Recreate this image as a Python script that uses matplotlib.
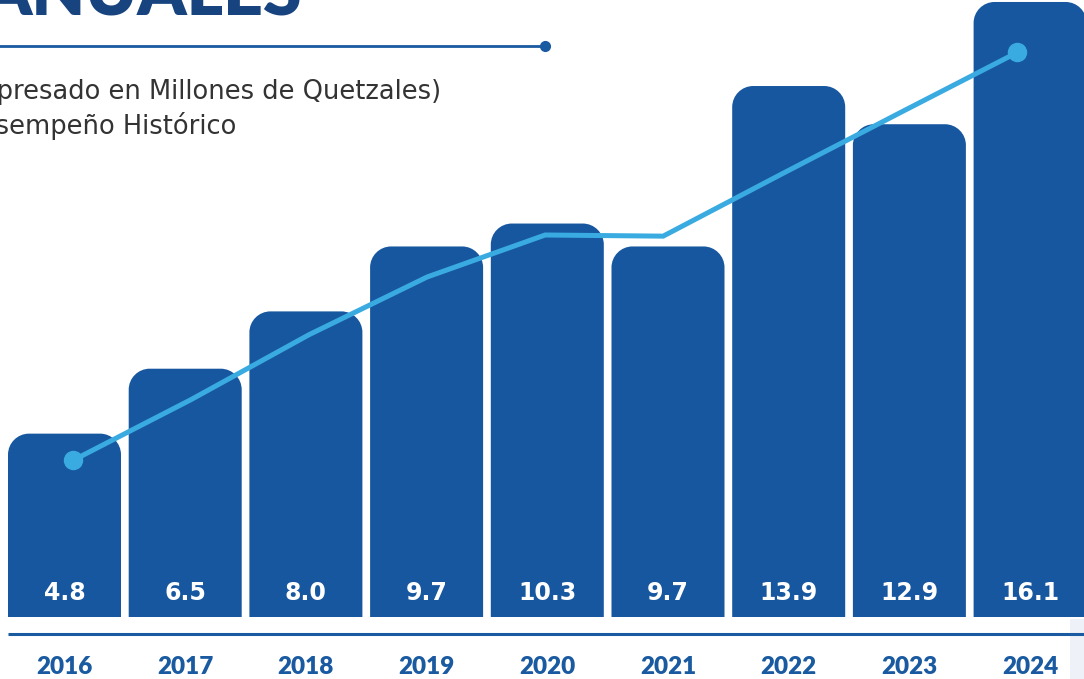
import matplotlib
matplotlib.use("Agg")
import matplotlib.pyplot as plt
from matplotlib.patches import PathPatch, Rectangle
from matplotlib.path import Path
import numpy as np

# ---------------- data ----------------
years = ["2016", "2017", "2018", "2019", "2020", "2021", "2022", "2023", "2024"]
values = [4.8, 6.5, 8.0, 9.7, 10.3, 9.7, 13.9, 12.9, 16.1]
value_labels = ["4.8", "6.5", "8.0", "9.7", "10.3", "9.7", "13.9", "12.9", "16.1"]
trend = [4.10, 5.69, 7.39, 8.90, 10.0, 9.97, 11.59, 13.19, 14.78]
title_text = "ANUALES"
subtitle_1 = "(Expresado en Millones de Quetzales)"
subtitle_2 = "Desempeño Histórico"

# ---------------- styles ----------------
BAR = "#1757a0"
LINE = "#3aabe1"
DARK = "#17447f"
LABEL = "#1a5aa0"
GREY = "#333333"

W, H = 1084, 679
fig = plt.figure(figsize=(W / 100, H / 100), dpi=100)

ax = fig.add_axes([0, 0, 1, 1])
px_x, off_x = 120.7, 64.5
px_y, base_y = 38.2, 617
ax.set_xlim(-off_x / px_x, (W - off_x) / px_x)
ax.set_ylim(-(H - base_y) / px_y, base_y / px_y)
ax.axis("off")

bw = 113 / px_x
rx = 21 / px_x
ry = 21 / px_y
K = 0.5523


def top_round_bar(x0, w, h):
    x1 = x0 + w
    verts = [
        (x0, 0), (x0, h - ry),
        (x0, h - ry + K * ry), (x0 + rx - K * rx, h), (x0 + rx, h),
        (x1 - rx, h),
        (x1 - rx + K * rx, h), (x1, h - ry + K * ry), (x1, h - ry),
        (x1, 0), (x0, 0),
    ]
    codes = [Path.MOVETO, Path.LINETO,
             Path.CURVE4, Path.CURVE4, Path.CURVE4,
             Path.LINETO,
             Path.CURVE4, Path.CURVE4, Path.CURVE4,
             Path.LINETO, Path.CLOSEPOLY]
    return Path(verts, codes)


idx = np.arange(len(years))
for i, v in zip(idx, values):
    ax.add_patch(PathPatch(top_round_bar(i - bw / 2, bw, v), fc=BAR, ec="none", zorder=2))

for i, lab in zip(idx, value_labels):
    ax.text(i, 24 / px_y, lab, ha="center", va="center", color="white",
            fontsize=17, fontweight="bold", family="DejaVu Sans", zorder=4)

for i, y in zip(idx, years):
    ax.text(i, -50 / px_y, y, ha="center", va="center", color=LABEL,
            fontsize=17.5, fontweight="heavy", family="Lato", zorder=4)

xl = idx * 0.978 + 0.07
ax.plot(xl, trend, color=LINE, lw=3.6, solid_joinstyle="miter", zorder=3)
ax.plot([xl[0], xl[-1]], [trend[0], trend[-1]], "o", color=LINE, ms=13, zorder=3)

# overlay axes in pixel units for decoration
ov = fig.add_axes([0, 0, 1, 1], zorder=5)
ov.set_xlim(0, W)
ov.set_ylim(H, 0)
ov.axis("off")
ov.patch.set_alpha(0)

ov.add_patch(Rectangle((1070, 619), 20, 70, fc="#eef2f8", ec="none", zorder=0))
ov.plot([8, W + 5], [634, 634], color=LABEL, lw=2.2, solid_capstyle="butt")

ov.text(302, 16, title_text, ha="right", va="baseline", color=DARK,
        fontsize=50, fontweight="heavy", family="Lato")
ov.plot([-5, 545], [46, 46], color=LABEL, lw=2.0, solid_capstyle="butt")
ov.plot([545], [46], "o", color=LABEL, ms=7)

ov.text(441, 99, subtitle_1, ha="right", va="baseline", color=GREY,
        fontsize=18.5, family="DejaVu Sans")
ov.text(236, 134, subtitle_2, ha="right", va="baseline", color=GREY,
        fontsize=18.5, family="DejaVu Sans")

fig.savefig("out.png", dpi=100)
